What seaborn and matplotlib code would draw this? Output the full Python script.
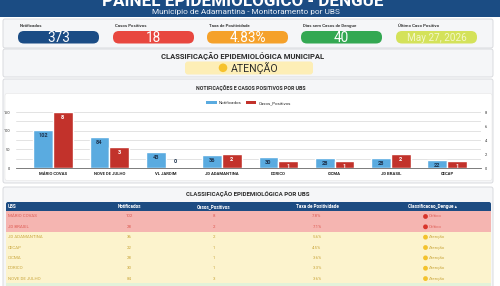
import matplotlib
matplotlib.use("Agg")
import matplotlib.pyplot as plt
import seaborn as sns
import pandas as pd
from matplotlib.patches import FancyBboxPatch, Rectangle, Circle, Patch

# ---------------- data ----------------
ubs = ["MÁRIO COVAS", "NOVE DE JULHO", "VL JARDIM", "JD ADAMANTINA",
       "DORICO", "CICMA", "JD BRASIL", "CECAP"]
notificados = [102, 84, 43, 36, 30, 28, 28, 22]
positivos = [8, 3, 0, 2, 1, 1, 2, 1]

kpi_labels = ["Notificados", "Casos Positivos", "Taxa de Positividade",
              "Dias sem Casos de Dengue", "Último Caso Positivo"]
kpi_values = ["373", "18", "4.83%", "40", "May 27, 2026"]

tab_ubs = ["MÁRIO COVAS", "JD BRASIL", "JD ADAMANTINA", "CECAP", "CICMA",
           "DORICO", "NOVE DE JULHO", "VL JARDIM"]
tab_notif = [102, 28, 36, 22, 28, 30, 84, 43]
tab_pos = [8, 2, 2, 1, 1, 1, 3, 0]
tab_taxa = ["7.8%", "7.1%", "5.6%", "4.5%", "3.6%", "3.3%", "3.6%", "0.0%"]
tab_class = ["Crítico", "Crítico", "Atenção", "Atenção", "Atenção",
             "Atenção", "Atenção", "Normal"]
tab_cols = ["UBS", "Notificados", "Casos_Positivos", "Taxa de Positividade",
            "Classificacao_Dengue ▴"]

# ---------------- style ----------------
sns.set_style("white")
plt.rcParams["font.family"] = ["Roboto", "DejaVu Sans"]

PX = 1 / 1.389  # px -> pt at dpi 100
fig = plt.figure(figsize=(5.0, 2.86), dpi=100)
fig.patch.set_facecolor("white")

bg = fig.add_axes([0, 0, 1, 1], zorder=0)
bg.set_xlim(0, 500)
bg.set_ylim(286, 0)
bg.axis("off")


def rbox(x, y, w, h, fc, ec="none", lw=0.0, r=3, z=1):
    bg.add_patch(FancyBboxPatch((x, y), w, h,
                                boxstyle=f"round,pad=0,rounding_size={r}",
                                fc=fc, ec=ec, lw=lw, zorder=z))


# header
bg.add_patch(Rectangle((0, 0), 500, 17, fc="#1b4c83", ec="none", zorder=1))
bg.text(243, 6.3, "PAINEL EPIDEMIOLÓGICO - DENGUE", color="white",
        fontsize=17 * PX, fontweight="bold", ha="center", va="baseline", zorder=2)
bg.text(246, 11.8, "Município de Adamantina - Monitoramento por UBS",
        color="#e8eef6", fontsize=8.3 * PX, ha="center", va="center", zorder=2)

# KPI panel
rbox(3, 19, 490, 29, "#f5f6f8", "#d4d6da", 0.6, r=2)
kpi_x = [18, 113, 207, 301, 396]
kpi_colors = ["#1b4c85", "#e8473f", "#f5a12a", "#33a852", "#d4e25a"]
kpi_txt = ["white", "white", "white", "white", "#f3f7c8"]
for x, lab, val, c, tc in zip(kpi_x, kpi_labels, kpi_values, kpi_colors, kpi_txt):
    bg.text(x + 2, 25.7, lab, fontsize=4.4 * PX, fontweight="bold",
            color="#3a3a3a", ha="left", va="center", zorder=3)
    rbox(x, 31, 81, 12.5, c, r=6, z=2)
    fs = 13.5 if len(val) < 8 else 10
    bg.text(x + 40.5, 37.6, val, fontsize=fs * PX, color=tc,
            ha="center", va="center", zorder=3)

# municipal classification
rbox(3, 49, 490, 28, "#f5f6f8", "#d4d6da", 0.6, r=2)
bg.text(243, 56, "CLASSIFICAÇÃO EPIDEMIOLÓGICA MUNICIPAL", fontsize=7.6 * PX,
        fontweight="bold", color="#2b2b2b", ha="center", va="center", zorder=3)
rbox(185, 61.5, 128, 13, "#fdeeb6", r=3, z=2)
bg.add_patch(Circle((223, 67.8), 4.3, fc="#f6c22e", ec="none", zorder=3))
bg.text(230.5, 68.2, "ATENÇÃO", fontsize=10.5 * PX, color="#2b2b2b",
        ha="left", va="center", zorder=3)

# chart panel
rbox(3, 79, 490, 104, "#f5f6f8", "#d4d6da", 0.6, r=2)
bg.text(251, 87.8, "NOTIFICAÇÕES E CASOS POSITIVOS POR UBS", fontsize=5.2 * PX,
        fontweight="bold", color="#2b2b2b", ha="center", va="center", zorder=3)
rbox(5, 93.5, 487, 87, "white", "#e6e6e6", 0.4, r=2, z=2)

# table panel
rbox(3, 187, 490, 110, "#f5f6f8", "#d4d6da", 0.6, r=2)
bg.text(248, 194.2, "CLASSIFICAÇÃO EPIDEMIOLÓGICA POR UBS", fontsize=6.2 * PX,
        fontweight="bold", color="#2b2b2b", ha="center", va="center", zorder=3)
rbox(6, 202, 485, 10, "#1d4c82", r=2, z=2)
bg.add_patch(Rectangle((6, 207), 485, 4, fc="#1d4c82", ec="none", zorder=2))
col_x = [8, 129, 214, 317, 432]
for i, (cx, name) in enumerate(zip(col_x, tab_cols)):
    bg.text(cx, 206.6, name, fontsize=4.6 * PX, fontweight="bold", color="white",
            ha="left" if i == 0 else "center", va="center", zorder=3)

row_fc = {"Crítico": "#f5b5b1", "Atenção": "#fcf3cd", "Normal": "#e3f2d9"}
row_tc = {"Crítico": "#de5a52", "Atenção": "#c9a63c", "Normal": "#5a9a4a"}
dot_c = {"Crítico": "#d9342b", "Atenção": "#f3c22c", "Normal": "#3aaa55"}
y0, rh = 211, 10.35
for k in range(len(tab_ubs)):
    cl = tab_class[k]
    top = y0 + k * rh
    bg.add_patch(Rectangle((6, top), 485, rh, fc=row_fc[cl], ec="none", zorder=2))
    yc = top + rh / 2 + 0.3
    tc = row_tc[cl]
    fs = 4.4 * PX
    bg.text(8, yc, tab_ubs[k], fontsize=fs, color=tc, ha="left", va="center", zorder=3)
    bg.text(col_x[1], yc, str(tab_notif[k]), fontsize=fs, color=tc, ha="center", va="center", zorder=3)
    bg.text(col_x[2], yc, str(tab_pos[k]), fontsize=fs, color=tc, ha="center", va="center", zorder=3)
    bg.text(col_x[3], yc, tab_taxa[k], fontsize=fs, color=tc, ha="center", va="center", zorder=3)
    bg.add_patch(Circle((425.5, yc), 2.4, fc=dot_c[cl], ec="none", zorder=3))
    bg.text(429, yc, cl, fontsize=fs, color=tc, ha="left", va="center", zorder=3)

# ---------------- bar chart (seaborn) ----------------
left, right = 16, 481
top_px, bot_px = 107, 168
ax = fig.add_axes([left / 500, (286 - bot_px) / 286,
                   (right - left) / 500, (bot_px - top_px) / 286], zorder=5)
ax.patch.set_alpha(0)

hue_order = ["Notificados", "Casos_Positivos"]
palette = {"Notificados": "#5aabe0", "Casos_Positivos": "#c2322b"}
df_n = pd.DataFrame({"UBS": ubs, "valor": notificados, "serie": "Notificados"})
df_p = pd.DataFrame({"UBS": ubs, "valor": positivos, "serie": "Casos_Positivos"})

sns.barplot(data=df_n, x="UBS", y="valor", hue="serie", hue_order=hue_order,
            palette=palette, order=ubs, width=0.7, saturation=1, dodge=True,
            legend=False, ax=ax, zorder=3)
ax2 = ax.twinx()
ax2.patch.set_alpha(0)
sns.barplot(data=df_p, x="UBS", y="valor", hue="serie", hue_order=hue_order,
            palette=palette, order=ubs, width=0.7, saturation=1, dodge=True,
            legend=False, ax=ax2, zorder=3)

ymax_l = 150 * (bot_px - top_px) / 56
ax.set_ylim(0, ymax_l)
ax2.set_ylim(0, ymax_l * 8 / 150)
ax.set_xlim(-0.657, 7.6)
ax2.set_xlim(-0.657, 7.6)
ax.set_yticks([0, 50, 100, 150])
ax.set_yticks([25, 75, 125], minor=True)
ax2.set_yticks([0, 2, 4, 6, 8])
ax.grid(axis="y", which="both", color="#dedede", lw=0.6, zorder=0)
ax.set_axisbelow(True)
for a in (ax, ax2):
    a.set_xlabel("")
    a.set_ylabel("")
    for s in ("top", "left", "right"):
        a.spines[s].set_visible(False)
    a.spines["bottom"].set_visible(False)
ax.spines["bottom"].set_visible(True)
ax.spines["bottom"].set_color("#666666")
ax.spines["bottom"].set_linewidth(0.6)

ax.tick_params(axis="x", labelsize=4.2 * PX, length=0, pad=3.2, colors="#222222")
ax.tick_params(axis="y", which="both", labelsize=4.0 * PX, length=0, pad=4, colors="#333333")
ax2.tick_params(axis="y", labelsize=4.0 * PX, length=0, pad=3, colors="#333333")
ax2.tick_params(axis="x", length=0, labelbottom=False)
for lbl in ax.get_xticklabels():
    lbl.set_fontweight("bold")

for p in ax.patches:
    h = p.get_height()
    x = p.get_x() + p.get_width() / 2
    ax.annotate(f"{int(round(h))}", (x, h), xytext=(0, -4.2), textcoords="offset points",
                ha="center", va="center", fontsize=5.6 * PX, fontweight="bold",
                color="#1f3550", zorder=6)
for p in ax2.patches:
    h = p.get_height()
    x = p.get_x() + p.get_width() / 2
    if h > 0:
        ax2.annotate(f"{int(round(h))}", (x, h), xytext=(0, -4.2), textcoords="offset points",
                     ha="center", va="center", fontsize=5.6 * PX, fontweight="bold",
                     color="white", zorder=6)
    else:
        ax2.annotate(f"{int(round(h))}", (x, h), xytext=(0, 4.5), textcoords="offset points",
                     ha="center", va="center", fontsize=5.6 * PX, fontweight="bold",
                     color="#1f3550", zorder=6)

handles = [Patch(fc=palette[k], ec="none", label=k) for k in hue_order]
leg = ax2.legend(handles=handles, loc="center", bbox_to_anchor=(0.5, 1.066),
                 ncol=2, frameon=False, fontsize=4.4 * PX, handlelength=2.4,
                 handleheight=0.9, columnspacing=1.0, handletextpad=0.5)

fig.savefig("out.png", dpi=100)
